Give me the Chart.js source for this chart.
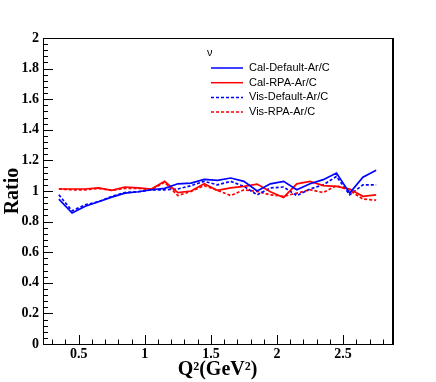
<!DOCTYPE html>
<html>
<head>
<meta charset="utf-8">
<script src="https://cdn.jsdelivr.net/npm/chart.js@4/dist/chart.umd.min.js"></script>
<style>
  html, body { margin: 0; padding: 0; background: #fff; }
  #wrap { width: 436px; height: 382px; }
</style>
</head>
<body>
<div id="wrap"><canvas id="myChart" width="436" height="382"></canvas></div>
<script>
// Q^2 bin centres (GeV^2)
const q2 = [0.35, 0.45, 0.55, 0.65, 0.75, 0.85, 0.95, 1.05, 1.15, 1.25, 1.35, 1.45, 1.55,
            1.65, 1.75, 1.85, 1.95, 2.05, 2.15, 2.25, 2.35, 2.45, 2.55, 2.65, 2.75];

const calDefault = [0.947, 0.856, 0.90, 0.93, 0.96, 0.986, 0.995, 1.008, 1.017, 1.047, 1.052, 1.076, 1.07,
                    1.085, 1.063, 1.0, 1.047, 1.063, 1.008, 1.047, 1.074, 1.117, 0.986, 1.09, 1.135];
const calRPA = [1.013, 1.013, 1.013, 1.02, 1.004, 1.026, 1.02, 1.013, 1.063, 0.99, 1.0, 1.047, 1.004,
                1.02, 1.03, 1.045, 0.995, 0.958, 1.047, 1.063, 1.035, 1.03, 1.013, 0.965, 0.975];
const visDefault = [0.975, 0.87, 0.91, 0.93, 0.965, 0.99, 0.995, 1.008, 1.008, 1.013, 1.035, 1.063, 1.04,
                    1.063, 1.03, 0.975, 1.02, 1.026, 0.97, 1.013, 1.04, 1.095, 0.975, 1.04, 1.04];
const visRPA = [1.013, 1.008, 1.008, 1.017, 1.004, 1.017, 1.017, 1.008, 1.057, 0.97, 0.997, 1.035, 1.004,
                0.97, 1.008, 0.997, 0.975, 0.965, 0.986, 1.008, 0.99, 1.035, 1.004, 0.947, 0.94];

const seriesNames = ['Cal-Default-Ar/C', 'Cal-RPA-Ar/C', 'Vis-Default-Ar/C', 'Vis-RPA-Ar/C'];
const xTickValues = [0.5, 1, 1.5, 2, 2.5];
const xTickLabels = ['0.5', '1', '1.5', '2', '2.5'];
const yTickValues = [0, 0.2, 0.4, 0.6, 0.8, 1, 1.2, 1.4, 1.6, 1.8, 2];
const yTickLabels = ['0', '0.2', '0.4', '0.6', '0.8', '1', '1.2', '1.4', '1.6', '1.8', '2'];
const legendTitle = '\u03bd';

const BLUE = '#0000ff';
const RED = '#ff0000';

function pts(ys) {
    return q2.map((x, i) => ({ x: x, y: ys[i] }));
}

// frame, inward ticks and legend, ROOT style
const rootStyle = {
    id: 'rootStyle',
    afterDraw(chart) {
        const ctx = chart.ctx;
        const a = chart.chartArea;
        const xs = chart.scales.x;
        const ys = chart.scales.y;
        ctx.save();
        ctx.strokeStyle = '#000';
        ctx.lineWidth = 1;
        ctx.beginPath();
        // y ticks
        for (let i = 0; i <= 50; i++) {
            const v = i * 0.04;
            const py = Math.round(ys.getPixelForValue(v)) + 0.5;
            const len = (i % 5 === 0) ? 10 : 5;
            ctx.moveTo(a.left, py);
            ctx.lineTo(a.left + len, py);
        }
        // x ticks
        for (let i = 3; i <= 28; i++) {
            const v = i / 10;
            const px = Math.round(xs.getPixelForValue(v)) + 0.5;
            const len = (i % 5 === 0) ? 9 : 4.5;
            ctx.moveTo(px, a.bottom);
            ctx.lineTo(px, a.bottom - len);
        }
        ctx.stroke();
        // frame
        ctx.strokeRect(Math.round(a.left) + 0.5, Math.round(a.top) + 0.5,
                       Math.round(a.right - a.left), Math.round(a.bottom - a.top));
        ctx.lineWidth = 2;
        ctx.beginPath();
        ctx.moveTo(Math.round(a.right) + 1, a.top);
        ctx.lineTo(Math.round(a.right) + 1, a.bottom + 1);
        ctx.stroke();

        // legend
        ctx.fillStyle = '#000';
        ctx.font = '11px "Liberation Sans", Arial, sans-serif';
        ctx.textBaseline = 'middle';
        ctx.textAlign = 'left';
        ctx.fillText(legendTitle, 207, 53);
        chart.data.datasets.forEach((ds, i) => {
            const y = 68 + i * 14.7;
            ctx.strokeStyle = ds.borderColor;
            ctx.lineWidth = 1.5;
            ctx.setLineDash(ds.borderDash || []);
            ctx.beginPath();
            ctx.moveTo(211, y);
            ctx.lineTo(243, y);
            ctx.stroke();
            ctx.setLineDash([]);
            ctx.fillText(ds.label, 249, y);
        });
        ctx.restore();
    }
};

const tickFont = { family: '"Liberation Serif", "Times New Roman", serif', size: 14, weight: 'bold' };
const titleFont = { family: '"Liberation Serif", "Times New Roman", serif', size: 20, weight: 'bold' };

new Chart(document.getElementById('myChart'), {
    type: 'line',
    data: {
        datasets: [
            { label: seriesNames[0], data: pts(calDefault), borderColor: BLUE, borderWidth: 1.7 },
            { label: seriesNames[1], data: pts(calRPA), borderColor: RED, borderWidth: 1.7 },
            { label: seriesNames[2], data: pts(visDefault), borderColor: BLUE, borderWidth: 1.7, borderDash: [3, 2] },
            { label: seriesNames[3], data: pts(visRPA), borderColor: RED, borderWidth: 1.7, borderDash: [3, 2] }
        ]
    },
    options: {
        responsive: false,
        animation: false,
        layout: { padding: { top: 38, right: 44, left: 0, bottom: 0 } },
        elements: { point: { radius: 0 }, line: { tension: 0, fill: false } },
        plugins: { legend: { display: false }, tooltip: { enabled: false } },
        scales: {
            x: {
                type: 'linear',
                min: 0.23,
                max: 2.87,
                afterBuildTicks: s => { s.ticks = xTickValues.map(v => ({ value: v })); },
                afterFit: s => { s.height = 38; },
                grid: { display: false, drawTicks: false },
                border: { display: false },
                ticks: {
                    color: '#000',
                    font: tickFont,
                    padding: 2,
                    maxRotation: 0,
                    callback: (v) => xTickLabels[xTickValues.indexOf(v)]
                },
                title: { display: true, text: 'Q\u00b2(GeV\u00b2)', color: '#000', font: titleFont, padding: { top: 0, bottom: 0 } }
            },
            y: {
                min: 0,
                max: 2,
                afterBuildTicks: s => { s.ticks = yTickValues.map(v => ({ value: v })); },
                afterFit: s => { s.width = 43; },
                grid: { display: false, drawTicks: false },
                border: { display: false },
                ticks: {
                    color: '#000',
                    font: tickFont,
                    padding: 4,
                    callback: (v) => yTickLabels[yTickValues.indexOf(v)]
                },
                title: { display: true, text: 'Ratio', color: '#000', font: titleFont, padding: { top: 1, bottom: 0 } }
            }
        }
    },
    plugins: [rootStyle]
});
</script>
</body>
</html>
